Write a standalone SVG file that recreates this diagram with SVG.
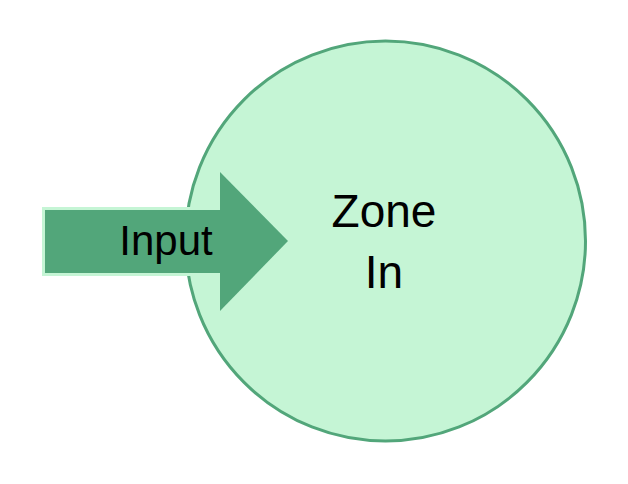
<svg xmlns="http://www.w3.org/2000/svg" width="628" height="484" viewBox="0 0 628 484">
<style>
.lbl{font-family:"Liberation Sans",Arial,sans-serif;fill:#000;text-anchor:middle}
</style>
<rect width="628" height="484" fill="#fff"/>
<g id="zone">
<circle cx="385.5" cy="241" r="200" fill="#c5f5d5" stroke="#52a67a" stroke-width="3"/>
<text class="lbl" x="384" y="227" font-size="46">Zone</text>
<text class="lbl" x="384" y="288" font-size="46">In</text>
</g>
<g id="connectors">
<g id="input">
<rect x="43.5" y="208.5" width="178" height="66" fill="#52a67a" stroke="#c5f5d5" stroke-width="3"/>
<polygon points="220,172 288,241 220,311" fill="#52a67a"/>
<rect x="215" y="210" width="8" height="63" fill="#52a67a"/>
<text class="lbl" x="166" y="255" font-size="42">Input</text>
</g>
</g>
</svg>
